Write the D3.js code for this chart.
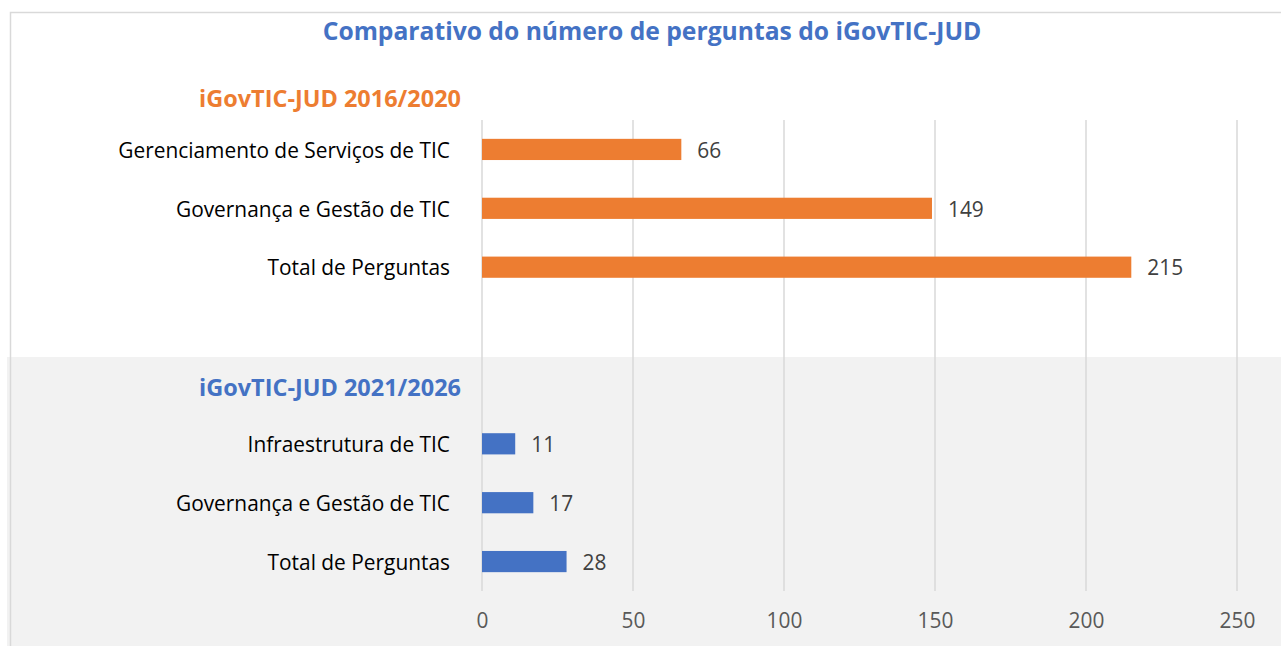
<!DOCTYPE html>
<html><head><meta charset="utf-8">
<script src="https://cdn.jsdelivr.net/npm/d3@7"></script>
<style>body{margin:0;background:#fff;}svg{display:block;}</style>
</head><body>
<script>
const title = "Comparativo do número de perguntas do iGovTIC-JUD";
const group1Title = "iGovTIC-JUD 2016/2020";
const group1Labels = ["Gerenciamento de Serviços de TIC", "Governança e Gestão de TIC", "Total de Perguntas"];
const group1Values = [66, 149, 215];
const group2Title = "iGovTIC-JUD 2021/2026";
const group2Labels = ["Infraestrutura de TIC", "Governança e Gestão de TIC", "Total de Perguntas"];
const group2Values = [11, 17, 28];
const xTicks = [0, 50, 100, 150, 200, 250];

const W = 1281, H = 646;
const FONT = "'Open Sans', Lato, sans-serif";
const svg = d3.select("body").append("svg").attr("width", W).attr("height", H);

function fitSize(text, target, weight) {
  const t = svg.append("text").attr("font-family", FONT).attr("font-size", 100)
    .attr("font-weight", weight || "normal").text(text);
  const w = t.node().getComputedTextLength();
  t.remove();
  return 100 * target / w;
}
const labelSize = fitSize(group1Labels[0], 332);
const titleSize = fitSize(title, 659, "bold");
const headSize = fitSize(group1Title, 262, "bold");

const rows = [];
group1Labels.forEach((l,i)=>rows.push({label:l, value:group1Values[i], g:1}));
rows.push({label:"", value:null, g:0});
rows.push({label:group2Title, value:null, g:2, header:true});
group2Labels.forEach((l,i)=>rows.push({label:l, value:group2Values[i], g:2}));

const x = d3.scaleLinear().domain([0, 250]).range([482, 1237]);
const y = d3.scaleBand().domain(d3.range(rows.length)).range([120, 591]).paddingInner(0.64).paddingOuter(0.32);

svg.append("rect").attr("x", 7).attr("y", 357).attr("width", W-7).attr("height", H-357).attr("fill", "#f2f2f2");

svg.append("rect").attr("x", 10.5).attr("y", 12.5).attr("width", W+10).attr("height", H+10)
  .attr("fill","none").attr("stroke","#d9d9d9").attr("stroke-width",1.5);

svg.append("g").selectAll("line").data(xTicks).join("line")
  .attr("x1", d=>x(d)).attr("x2", d=>x(d)).attr("y1", 120).attr("y2", 591)
  .attr("stroke", "#d9d9d9").attr("stroke-width", 1.5);

const xAxis = d3.axisBottom(x).tickValues(xTicks).tickSize(0).tickPadding(0);
const ax = svg.append("g").attr("transform", "translate(0,613)").call(xAxis);
ax.select(".domain").remove();
ax.selectAll("text").attr("font-family", FONT).attr("font-size", labelSize).attr("fill", "#595959");

svg.append("text").attr("x", 652).attr("y", 40).attr("text-anchor","middle")
  .attr("font-family", FONT).attr("font-weight","bold").attr("font-size", titleSize).attr("fill","#4472c4").text(title);

svg.append("text").attr("x", 461).attr("y", 107).attr("text-anchor","end")
  .attr("font-family", FONT).attr("font-weight","bold").attr("font-size", headSize).attr("fill","#ed7d31").text(group1Title);

svg.append("g").selectAll("text").data(rows).join("text")
  .attr("x", d=>d.header?461:450).attr("y", (d,i)=>y(i)+y.bandwidth()/2 + (d.header?3:1)).attr("dy","0.35em")
  .attr("text-anchor","end").attr("font-family", FONT)
  .attr("font-size", d=>d.header?headSize:labelSize).attr("font-weight", d=>d.header?"bold":"normal")
  .attr("fill", d=>d.header?"#4472c4":"#000").text(d=>d.label);

const bars = rows.map((d,i)=>({...d, i})).filter(d=>d.value!=null);
svg.append("g").selectAll("rect").data(bars).join("rect")
  .attr("x", x(0)).attr("y", d=>y(d.i)).attr("width", d=>x(d.value)-x(0)).attr("height", y.bandwidth())
  .attr("fill", d=>d.g===1?"#ed7d31":"#4472c4");

svg.append("g").selectAll("text").data(bars).join("text")
  .attr("x", d=>x(d.value)+16).attr("y", d=>y(d.i)+y.bandwidth()/2 + 1).attr("dy","0.35em")
  .attr("font-family", FONT).attr("font-size", labelSize).attr("fill","#404040").text(d=>d.value);
</script>
</body></html>
